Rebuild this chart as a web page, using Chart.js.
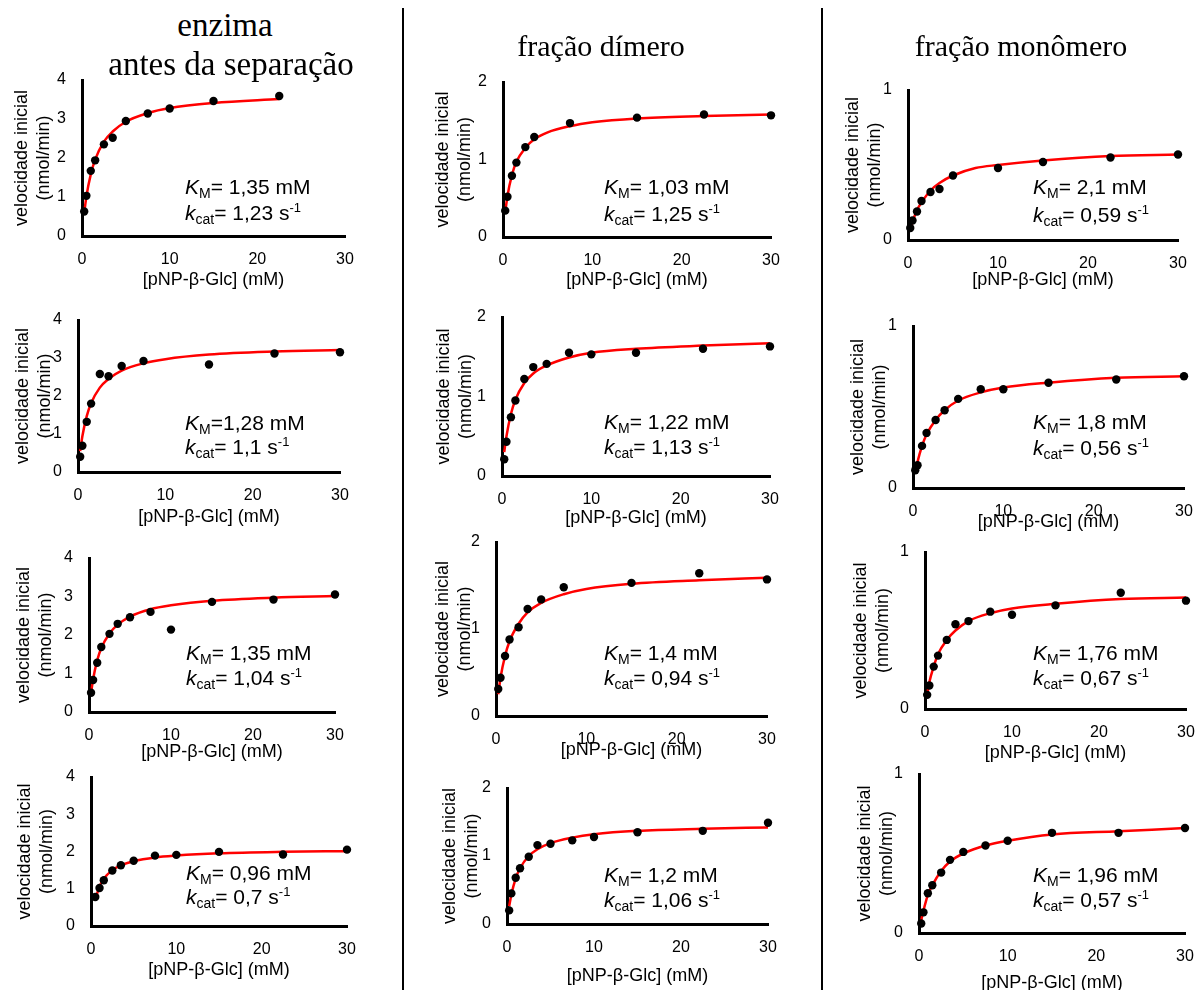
<!DOCTYPE html>
<html>
<head>
<meta charset="utf-8">
<script src="https://cdn.jsdelivr.net/npm/chart.js@4.4.1/dist/chart.umd.min.js"></script>
<style>
  body { margin: 0; background: #fff; }
  #page { position: relative; width: 1196px; height: 990px; overflow: hidden; background: #fff; }
  #page canvas { position: absolute; }
  .coltitle { position: absolute; font-family: "Liberation Serif", "Times New Roman", serif; font-size: 30px; line-height: 30px; color: #000; white-space: nowrap; transform: translateX(-50%); }
  .sep { position: absolute; width: 2px; background: #000; top: 8px; height: 982px; }
  .note { position: absolute; font-family: "Liberation Sans", Arial, sans-serif; font-size: 21px; line-height: 24px; color: #000; white-space: nowrap; }
  .note sub { font-size: 14px; vertical-align: -4px; line-height: 0; }
  .note sup { font-size: 13px; vertical-align: 8px; line-height: 0; }
</style>
</head>
<body>
<div id="page"></div>
<script>
// substrate concentrations (mM), shared by every panel
const conc = [0.25, 0.5, 1, 1.5, 2.5, 3.5, 5, 7.5, 10, 15, 22.5, 30];

// enzima antes da separação (nmol/min) - measured points and fitted curve
const vEnz1 = [0.63, 1.03, 1.67, 1.94, 2.35, 2.52, 2.95, 3.14, 3.27, 3.46, 3.59, null];
const fitEnz1 = [0.58, 1.01, 1.58, 1.96, 2.42, 2.68, 2.93, 3.15, 3.28, 3.41, 3.51, null];
const vEnz2 = [0.40, 0.69, 1.32, 1.80, 2.58, 2.52, 2.79, 2.92, null, 2.83, 3.12, 3.15];
const fitEnz2 = [0.55, 0.94, 1.47, 1.81, 2.22, 2.45, 2.67, 2.86, 2.97, 3.09, 3.17, 3.21];
const vEnz3 = [0.50, 0.83, 1.28, 1.69, 2.03, 2.29, 2.46, 2.60, 2.14, 2.86, 2.92, 3.05];
const fitEnz3 = [0.49, 0.85, 1.34, 1.66, 2.04, 2.27, 2.48, 2.67, 2.77, 2.89, 2.97, 3.01];
const vEnz4 = [null, 0.78, 1.02, 1.23, 1.49, 1.63, 1.75, 1.89, 1.91, 1.99, 1.92, 2.05];
const fitEnz4 = [null, 0.71, 1.06, 1.27, 1.50, 1.63, 1.74, 1.84, 1.89, 1.95, 1.99, 2.01];

// fração dímero
const vDim1 = [0.34, 0.52, 0.79, 0.96, 1.16, 1.29, null, 1.47, null, 1.54, 1.58, 1.57];
const fitDim1 = [0.32, 0.53, 0.80, 0.97, 1.15, 1.26, 1.35, 1.43, 1.48, 1.53, 1.56, 1.58];
const vDim2 = [0.21, 0.43, 0.74, 0.95, 1.22, 1.37, 1.41, 1.55, 1.53, 1.55, 1.60, 1.63];
const fitDim2 = [0.30, 0.50, 0.78, 0.96, 1.17, 1.29, 1.39, 1.49, 1.55, 1.60, 1.64, 1.67];
const vDim3 = [0.31, 0.44, 0.69, 0.88, 1.02, 1.23, 1.34, 1.48, null, 1.53, 1.64, 1.57];
const fitDim3 = [0.25, 0.44, 0.69, 0.86, 1.06, 1.19, 1.30, 1.40, 1.46, 1.52, 1.56, 1.59];
const vDim4 = [0.20, 0.45, 0.68, 0.82, 0.99, 1.16, 1.18, 1.23, 1.28, 1.35, 1.37, 1.49];
const fitDim4 = [0.26, 0.43, 0.67, 0.82, 1.00, 1.10, 1.19, 1.27, 1.32, 1.37, 1.40, 1.42];

// fração monômero
const vMon1 = [0.08, 0.13, 0.19, 0.26, 0.32, 0.34, 0.43, null, 0.48, 0.52, 0.55, 0.57];
const fitMon1 = [0.07, 0.12, 0.20, 0.25, 0.33, 0.38, 0.43, 0.48, 0.50, 0.53, 0.56, 0.57];
const vMon2 = [0.11, 0.14, 0.26, 0.34, 0.42, 0.48, 0.55, 0.61, 0.61, 0.65, 0.67, 0.69];
const fitMon2 = [0.09, 0.16, 0.26, 0.33, 0.42, 0.48, 0.54, 0.59, 0.62, 0.65, 0.68, 0.69];
const vMon3 = [0.09, 0.15, 0.27, 0.34, 0.44, 0.54, 0.56, 0.62, 0.60, 0.66, 0.74, 0.69];
const fitMon3 = [0.09, 0.17, 0.27, 0.35, 0.44, 0.50, 0.56, 0.61, 0.64, 0.67, 0.70, 0.71];
const vMon4 = [0.06, 0.13, 0.25, 0.30, 0.38, 0.46, 0.51, 0.55, 0.58, 0.63, 0.63, 0.66];
const fitMon4 = [0.08, 0.14, 0.24, 0.30, 0.39, 0.45, 0.50, 0.55, 0.58, 0.62, 0.64, 0.66];

// tick labels
const xTicks = [0, 10, 20, 30];
const yTicksEnz = [0, 1, 2, 3, 4];
const yTicksDim = [0, 1, 2];
const yTicksMon = [0, 1];

// texts
const colTitles = [['enzima', 'antes da separação'], ['fração dímero'], ['fração monômero']];
const yTitle = ['velocidade inicial', '(nmol/min)'];
const xTitle = '[pNP-β-Glc] (mM)';
const kmText = ['= 1,35 mM', '= 1,03 mM', '= 2,1 mM',
                '=1,28 mM', '= 1,22 mM', '= 1,8 mM',
                '= 1,35 mM', '= 1,4 mM', '= 1,76 mM',
                '= 0,96 mM', '= 1,2 mM', '= 1,96 mM'];
const kcatText = ['= 1,23 s', '= 1,25 s', '= 0,59 s',
                  '= 1,1 s', '= 1,13 s', '= 0,56 s',
                  '= 1,04 s', '= 0,94 s', '= 0,67 s',
                  '= 0,7 s', '= 1,06 s', '= 0,57 s'];

const rates = [vEnz1, vDim1, vMon1, vEnz2, vDim2, vMon2, vEnz3, vDim3, vMon3, vEnz4, vDim4, vMon4];
const fits = [fitEnz1, fitDim1, fitMon1, fitEnz2, fitDim2, fitMon2, fitEnz3, fitDim3, fitMon3, fitEnz4, fitDim4, fitMon4];
const yTickSets = [yTicksEnz, yTicksDim, yTicksMon];

// panel placement: plot area edges, title gaps, note positions (page px)
const boxes = [
  { l: 81.7, t: 80, r: 345, b: 235.7, yg: 38, xg: 44, nx: 185, n1: 187, n2: 213 },
  { l: 503.3, t: 81.7, r: 771.7, b: 236.7, yg: 38, xg: 43, nx: 604, n1: 187, n2: 214 },
  { l: 908.3, t: 90, r: 1178.3, b: 240, yg: 33, xg: 40, nx: 1033, n1: 187, n2: 215 },
  { l: 77.7, t: 320, r: 340, b: 471.7, yg: 33, xg: 45, nx: 185, n1: 423, n2: 447 },
  { l: 501.7, t: 316.7, r: 769.3, b: 476, yg: 36, xg: 42, nx: 604, n1: 422, n2: 447 },
  { l: 913.3, t: 326, r: 1184, b: 488.3, yg: 33, xg: 34, nx: 1033, n1: 422, n2: 448 },
  { l: 89.3, t: 558.3, r: 335, b: 712.7, yg: 43, xg: 40, nx: 186, n1: 653, n2: 678 },
  { l: 496, t: 541.7, r: 766.7, b: 715.7, yg: 31, xg: 34, nx: 604, n1: 653, n2: 678 },
  { l: 925, t: 551.7, r: 1185.7, b: 709, yg: 42, xg: 44, nx: 1033, n1: 653, n2: 678 },
  { l: 90.7, t: 776.7, r: 346.7, b: 925.7, yg: 44, xg: 44, nx: 186, n1: 873, n2: 897 },
  { l: 506.7, t: 788.3, r: 767.7, b: 924.3, yg: 35, xg: 52, nx: 604, n1: 875, n2: 900 },
  { l: 919, t: 774, r: 1185, b: 933.3, yg: 32, xg: 50, nx: 1033, n1: 875, n2: 900 }
];

const page = document.getElementById('page');
// reserved space around the plot area; top/right exceed the tick label overhang
const YW = 80, XH = 70, PT = 28, PR = 26;
const tickFont = { family: 'Liberation Sans, Arial, sans-serif', size: 16, lineHeight: 1.2 };
const titleFont = { family: 'Liberation Sans, Arial, sans-serif', size: 18, lineHeight: 1.2 };

function toPoints(ys) {
  const pts = [];
  ys.forEach((y, i) => { if (y !== null) pts.push({ x: conc[i], y }); });
  return pts;
}

boxes.forEach((g, i) => {
  const col = i % 3;
  const yt = yTickSets[col];
  const cv = document.createElement('canvas');
  const w = Math.round(YW + (g.r - g.l) + PR);
  const h = Math.round(PT + (g.b - g.t) + XH);
  cv.width = w; cv.height = h;
  cv.style.left = (g.l - YW) + 'px';
  cv.style.top = (g.t - PT) + 'px';
  cv.style.width = w + 'px'; cv.style.height = h + 'px';
  page.appendChild(cv);

  new Chart(cv.getContext('2d'), {
    type: 'scatter',
    data: {
      datasets: [
        { data: toPoints(rates[i]), pointRadius: 4.2, pointBackgroundColor: '#000', pointBorderColor: '#000',
          pointBorderWidth: 0, showLine: false, clip: false, order: 0 },
        { data: toPoints(fits[i]), showLine: true, pointRadius: 0, borderColor: '#ff0000', borderWidth: 2.5,
          cubicInterpolationMode: 'monotone', fill: false, clip: false, order: 1 }
      ]
    },
    options: {
      responsive: false,
      animation: false,
      events: [],
      layout: { padding: { top: PT, right: PR, left: 0, bottom: 0 } },
      plugins: { legend: { display: false }, tooltip: { enabled: false } },
      scales: {
        x: {
          type: 'linear', min: xTicks[0], max: xTicks[xTicks.length - 1],
          afterBuildTicks: s => { s.ticks = xTicks.map(v => ({ value: v })); },
          afterFit: s => { s.height = XH; },
          grid: { display: false, drawTicks: false },
          border: { display: true, color: '#000', width: 3 },
          ticks: { color: '#000', font: tickFont, padding: 13.5, maxRotation: 0, autoSkip: false },
          title: { display: true, text: xTitle, color: '#000', font: titleFont, padding: { top: 0, bottom: 59.2 - g.xg } }
        },
        y: {
          type: 'linear', min: yt[0], max: yt[yt.length - 1],
          afterBuildTicks: s => { s.ticks = yt.map(v => ({ value: v })); },
          afterFit: s => { s.width = YW; },
          grid: { display: false, drawTicks: false },
          border: { display: true, color: '#000', width: 3 },
          ticks: { color: '#000', font: tickFont, padding: 16 },
          title: { display: true, text: yTitle, color: '#000', font: titleFont, padding: { top: 47.6 - g.yg, bottom: 0 } }
        }
      }
    }
  });

  const km = document.createElement('div');
  km.className = 'note';
  km.style.left = g.nx + 'px'; km.style.top = (g.n1 - 12) + 'px';
  km.innerHTML = '<i>K</i><sub>M</sub>' + kmText[i];
  page.appendChild(km);
  const kc = document.createElement('div');
  kc.className = 'note';
  kc.style.left = g.nx + 'px'; kc.style.top = (g.n2 - 12) + 'px';
  kc.innerHTML = '<i>k</i><sub>cat</sub>' + kcatText[i] + '<sup>-1</sup>';
  page.appendChild(kc);
});

// column titles and separators
const titlePos = [[[225, 10, 33], [231, 49, 33]], [[601, 31, 30]], [[1021, 31, 30]]];
colTitles.forEach((lines, c) => {
  lines.forEach((txt, k) => {
    const d = document.createElement('div');
    d.className = 'coltitle';
    d.textContent = txt;
    d.style.left = titlePos[c][k][0] + 'px';
    d.style.top = titlePos[c][k][1] + 'px';
    d.style.fontSize = titlePos[c][k][2] + 'px';
    page.appendChild(d);
  });
});
[402, 821].forEach(x => {
  const s = document.createElement('div');
  s.className = 'sep';
  s.style.left = x + 'px';
  page.appendChild(s);
});
</script>
</body>
</html>
